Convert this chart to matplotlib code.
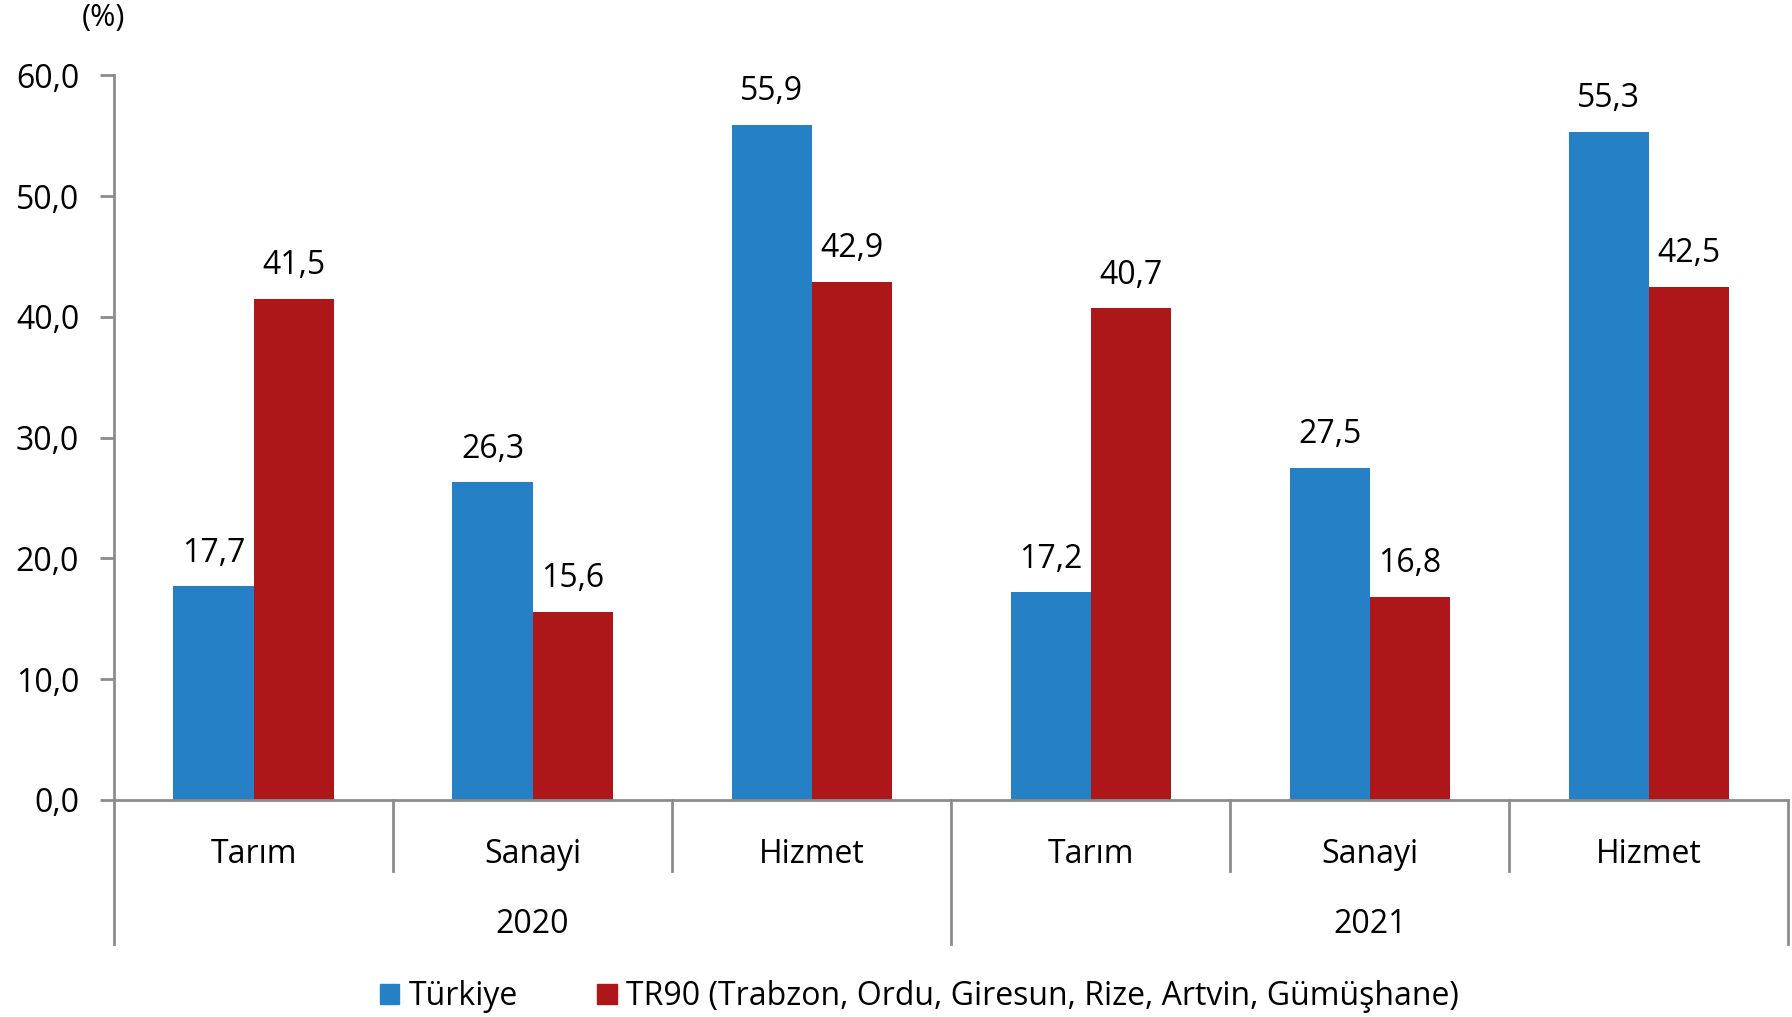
import numpy as np
import matplotlib.pyplot as plt
from matplotlib.patches import Patch

plt.rcParams['font.family'] = ['Open Sans', 'DejaVu Sans']

years = ['2020', '2021']
sectors = ['Tarım', 'Sanayi', 'Hizmet']
turkiye = [17.7, 26.3, 55.9, 17.2, 27.5, 55.3]
tr90 = [41.5, 15.6, 42.9, 40.7, 16.8, 42.5]
labels = ['Türkiye', 'TR90 (Trabzon, Ordu, Giresun, Rize, Artvin, Gümüşhane)']

blue = '#2680C6'
red = '#AE1719'
grey = '#8C8C8C'
fs = 23

fig = plt.figure(figsize=(17.92, 10.17), dpi=100)
ax = fig.add_axes([0.0636, 0.2134, 0.998 - 0.0636, 0.9259 - 0.2134])

x = np.arange(len(turkiye))
w = 0.287
b1 = ax.bar(x - w / 2, turkiye, w, color=blue)
b2 = ax.bar(x + w / 2, tr90, w, color=red)

for bars, vals in [(b1, turkiye), (b2, tr90)]:
    for r, v in zip(bars, vals):
        ax.annotate(f'{v:.1f}'.replace('.', ','), (r.get_x() + r.get_width() / 2, v),
                    xytext=(0, 12), textcoords='offset points',
                    ha='center', va='bottom', fontsize=fs)

ax.set_xlim(-0.5, 5.5)
ax.set_ylim(0, 60)
ax.set_yticks(np.arange(0, 61, 10))
ax.set_yticklabels([f'{v:.1f}'.replace('.', ',') for v in np.arange(0, 61, 10)], fontsize=fs)
ax.tick_params(axis='y', length=10, width=2, color=grey, pad=15)
ax.set_xticks([])

for s in ['top', 'right']:
    ax.spines[s].set_visible(False)
for s in ['left', 'bottom']:
    ax.spines[s].set_color(grey)
    ax.spines[s].set_linewidth(2)

# multi-level category axis
trans = ax.get_xaxis_transform()
for b in np.arange(-0.5, 6, 1):
    depth = -0.199 if b in (-0.5, 2.5, 5.5) else -0.098
    ax.plot([b, b], [0, depth], transform=trans, color=grey, lw=2, clip_on=False)
for i in x:
    ax.text(i, -0.075, sectors[i % 3], transform=trans, ha='center', va='center', fontsize=fs)
for g, yr in enumerate(years):
    ax.text(g * 3 + 1, -0.172, yr, transform=trans, ha='center', va='center', fontsize=fs)

fig.text(0.0575, 0.982, '(%)', ha='center', va='center', fontsize=fs - 1)

handles = [Patch(color=blue), Patch(color=red)]
fig.legend(handles, labels, loc='center', bbox_to_anchor=(0.513, 0.02), ncol=2,
           frameon=False, fontsize=fs, handlelength=0.6, handleheight=0.6,
           handletextpad=0.3, columnspacing=2.5)

fig.savefig('out.png')
